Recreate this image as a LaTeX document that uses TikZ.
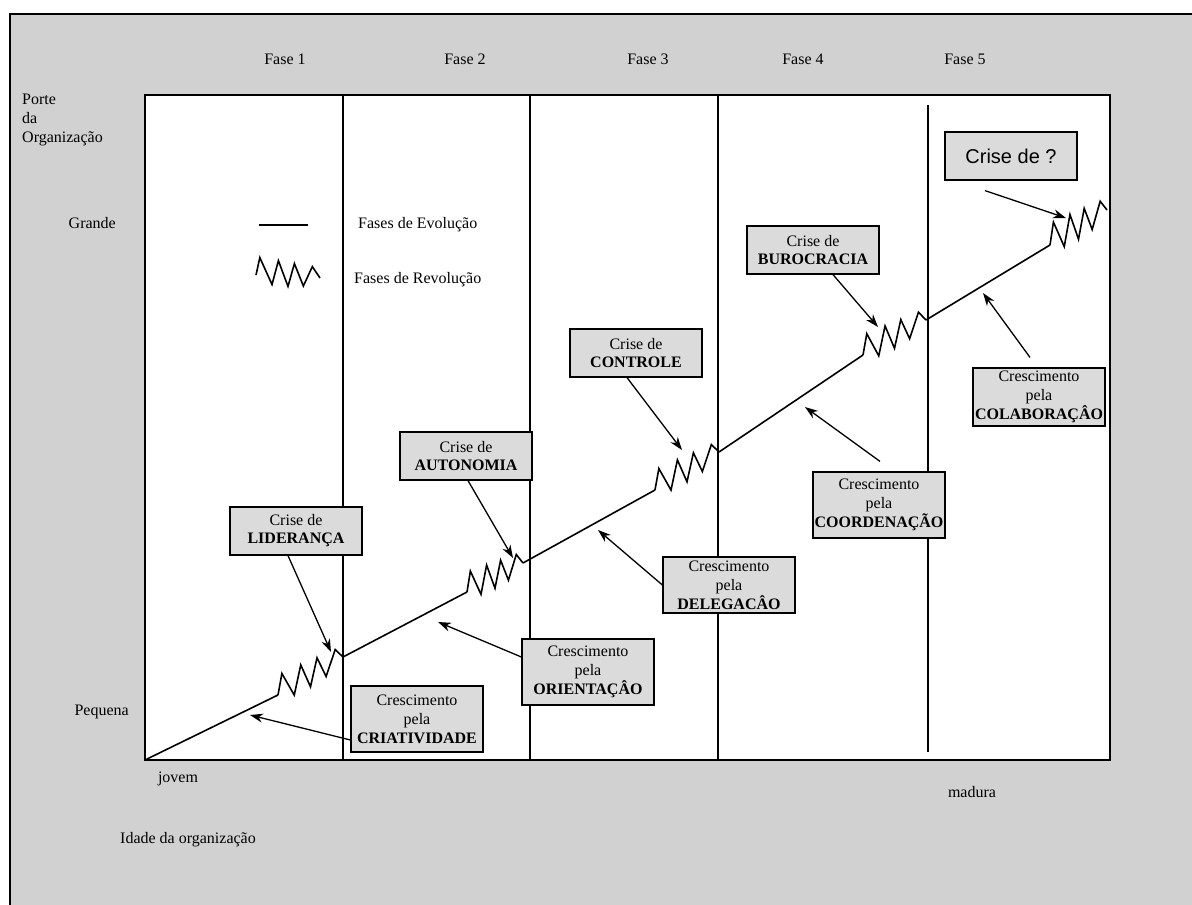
\documentclass[tikz,border=0pt]{standalone}
\usepackage{fontspec}
\setmainfont{Liberation Serif}
\newfontfamily\arialfont{Liberation Sans}
\usetikzlibrary{arrows.meta, positioning, calc}

\definecolor{stipple}{gray}{0.82}
\definecolor{boxfill}{gray}{0.86}

% revolution zigzag from #1 to #2, amplitude #3
\newcommand{\revol}[3]{%
  \draw[evo] (#1)
    -- ($(#1)!0.06!(#2)+(0,-16*#3)$)
    -- ($(#1)!0.25!(#2)+(0,8*#3)$)
    -- ($(#1)!0.35!(#2)+(0,-14*#3)$)
    -- ($(#1)!0.50!(#2)+(0,9*#3)$)
    -- ($(#1)!0.60!(#2)+(0,-12*#3)$)
    -- ($(#1)!0.74!(#2)+(0,8*#3)$)
    -- ($(#1)!0.88!(#2)+(0,-10*#3)$)
    -- (#2);}

\begin{document}
\begin{tikzpicture}[
    x=1pt, y=-1pt,
    txt/.style={font=\fontsize{16}{19}\selectfont, inner sep=0pt},
    crise/.style={rectangle, draw=black, line width=1.2pt, fill=boxfill, minimum width=132pt, minimum height=48pt, inner sep=0pt, align=center, font=\fontsize{16}{18}\selectfont},
    cresc/.style={crise, minimum height=66pt, font=\fontsize{16}{19}\selectfont},
    evo/.style={line width=1.6pt},
    arrow/.style={line width=1.3pt, -{Stealth[length=13pt, width=9pt]}},
    phase/.style={line width=1.2pt},
]

    % background and frame
    \useasboundingbox (0,0) rectangle (1192,905);
    \fill[stipple] (10,14) rectangle (1192,905);
    \draw[line width=1.5pt] (10,905) -- (10,14) -- (1192,14);
    \draw[fill=white, line width=1.6pt] (145,95) rectangle (1110,760);

    % phase borders
    \foreach \x in {343,530,718} \draw[phase] (\x,95) -- (\x,760);
    \draw[phase] (928,105) -- (928,752);

    % axis texts
    \foreach \x/\n in {285/1,465/2,648/3,803/4,965/5}
        \node (fase\n) [txt] at (\x,59) {Fase \n};
    \node (porte) [txt, align=left, anchor=north west] at (22,94) {Porte\\da\\Organização};
    \node (grande) [txt, anchor=east] at (116,223) {Grande};
    \node (pequena) [txt, anchor=east] at (129,712) {Pequena};
    \node (jovem) [txt] at (178,779) {jovem};
    \node (madura) [txt] at (972,792) {madura};
    \node (idade) [txt] at (188,840) {Idade da organização};

    % legend
    \coordinate (evoa) at (259,225);
    \coordinate (evob) at (308,225);
    \draw[evo] (evoa) -- (evob);
    \node (evotxt) [txt, anchor=west] at (358,225) {Fases de Evolução};
    \coordinate (reva) at (256,275);
    \coordinate (revb) at (320,278);
    \revol{reva}{revb}{1.1}
    \node (revtxt) [txt, anchor=west] at (354,280) {Fases de Revolução};

    % growth curve
    \coordinate (o) at (145,760);
    \coordinate (r1s) at (278,695);  \coordinate (r1e) at (343,657);
    \coordinate (r2s) at (467,592);  \coordinate (r2e) at (523,563);
    \coordinate (r3s) at (655,490);  \coordinate (r3e) at (719,452);
    \coordinate (r4s) at (863,355);  \coordinate (r4e) at (926,320);
    \coordinate (r5s) at (1050,245); \coordinate (r5e) at (1107,210);

    \draw[evo] (o) -- (r1s);
    \revol{r1s}{r1e}{1.2}
    \draw[evo] (r1e) -- (r2s);
    \revol{r2s}{r2e}{1.2}
    \draw[evo] (r2e) -- (r3s);
    \revol{r3s}{r3e}{1.2}
    \draw[evo] (r3e) -- (r4s);
    \revol{r4s}{r4e}{1.2}
    \draw[evo] (r4e) -- (r5s);
    \revol{r5s}{r5e}{1.3}

    % crises and growth boxes
    \node (lid) [crise] at (296,531) {Crise de\\\textbf{LIDERANÇA}};
    \node (cria) [cresc] at (417,719) {Crescimento\\pela\\\textbf{CRIATIVIDADE}};
    \node (aut) [crise] at (466,456) {Crise de\\\textbf{AUTONOMIA}};
    \node (ori) [cresc] at (588,672) {Crescimento\\pela\\\textbf{ORIENTAÇÂO}};
    \node (con) [crise] at (636,353) {Crise de\\\textbf{CONTROLE}};
    \node (del) [cresc, minimum height=56pt] at (729,585) {Crescimento\\pela\\\textbf{DELEGACÂO}};
    \node (coo) [cresc] at (879,505) {Crescimento\\pela\\\textbf{COORDENAÇÃO}};
    \node (bur) [crise] at (813,250) {Crise de\\\textbf{BUROCRACIA}};
    \node (col) [cresc, minimum height=58pt] at (1039,397) {Crescimento\\pela\\\textbf{COLABORAÇÂO}};
    \node (crq) [crise, font=\arialfont\fontsize{20}{24}\selectfont] at (1011,156) {Crise de ?};

    % pointers
    \coordinate (t1) at (331,652);
    \coordinate (t2) at (250,715);
    \coordinate (t3) at (513,558);
    \coordinate (t4) at (438,622);
    \coordinate (t5) at (682,450);
    \coordinate (t6) at (598,530);
    \coordinate (t7) at (878,327);
    \coordinate (t8) at (805,407);
    \coordinate (t9) at (983,293);
    \coordinate (t10) at (1066,218);

    \draw[arrow] ($(lid.south)+(-8,0)$) -- (t1);
    \draw[arrow] ($(cria.west)+(0,21)$) -- (t2);
    \draw[arrow] ($(aut.south)+(2,0)$) -- (t3);
    \draw[arrow] ($(ori.west)+(0,-15)$) -- (t4);
    \draw[arrow] ($(con.south)+(-9,0)$) -- (t5);
    \draw[arrow] (del.west) -- (t6);
    \draw[arrow] ($(bur.south)+(20,0)$) -- (t7);
    \draw[arrow] ($(coo.north)+(1,-10)$) -- (t8);
    \draw[arrow] ($(col.north)+(-9,-10)$) -- (t9);
    \draw[arrow] ($(crq.south)+(-26,10)$) -- (t10);

\end{tikzpicture}
\end{document}
